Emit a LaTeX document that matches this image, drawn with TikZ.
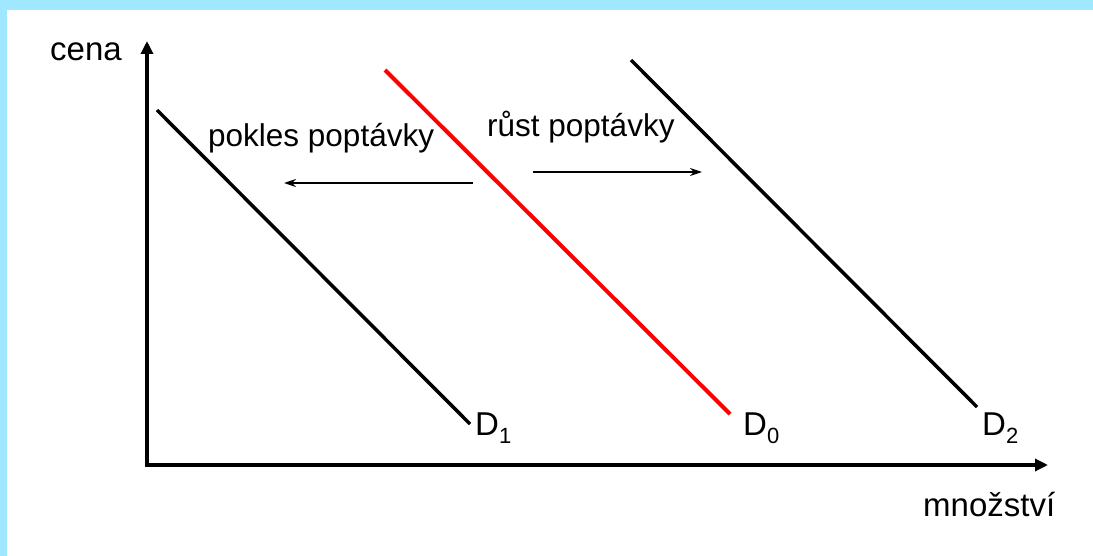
\documentclass[tikz,border=0pt]{standalone}
\usepackage{fontspec}
\setmainfont{Liberation Sans}
\usetikzlibrary{arrows.meta,positioning}
\definecolor{framecolor}{RGB}{160,232,255}
\definecolor{basecolor}{RGB}{255,0,0}
\newcommand{\dsub}[1]{D\raisebox{-8pt}{\fontsize{22}{22}\selectfont #1}}

\begin{document}
\begin{tikzpicture}[x=1pt, y=-1pt,
    every node/.style={font=\fontsize{33}{38}\selectfont, inner sep=0pt},
    axis/.style={line width=4pt, {Triangle[length=13pt,width=12pt]}-{Triangle[length=13pt,width=12pt]}},
    demand/.style={line width=3.5pt},
    shiftarrow/.style={line width=1.5pt, -{Stealth[length=12pt,width=8pt]}},
    shifttext/.style={anchor=base west, font=\fontsize{31.5}{36}\selectfont}]
    \useasboundingbox (0,0) rectangle (1093,556);
    % Frame strips
    \fill[framecolor] (0,0) rectangle (1093,10);
    \fill[framecolor] (0,0) rectangle (7,556);
    % Axes
    \coordinate (ytip) at (147,41);
    \coordinate (origin) at (147,465);
    \coordinate (xtip) at (1048,465);
    \draw[axis] (ytip) -- (origin) -- (xtip);
    \node[anchor=base west] (cena) at (50,61) {cena};
    \node[anchor=base west] (mnozstvi) at (923,516) {množství};
    % Demand curves (named end points)
    \coordinate (d1top) at (157,110);
    \coordinate (d1end) at (470,424);
    \coordinate (d0top) at (385,70);
    \coordinate (d0end) at (730,414);
    \coordinate (d2top) at (631,60);
    \coordinate (d2end) at (977,407);
    \draw[demand] (d1top) -- (d1end);
    \draw[demand, basecolor, line width=4pt] (d0top) -- (d0end);
    \draw[demand] (d2top) -- (d2end);
    % Curve labels
    \node[anchor=base west] (labD1) at (475,435) {\dsub{1}};
    \node[anchor=base west] (labD0) at (743,435) {\dsub{0}};
    \node[anchor=base west] (labD2) at (982,435) {\dsub{2}};
    % Shift arrows and their texts
    \node[shifttext] (pokles) at (208,147) {pokles poptávky};
    \node[shifttext] (rust) at (487,137) {růst poptávky};
    \coordinate (leftfrom) at (473,183);
    \coordinate (leftto) at (284,183);
    \coordinate (rightfrom) at (533,172);
    \coordinate (rightto) at (702,172);
    \draw[shiftarrow] (leftfrom) -- (leftto);
    \draw[shiftarrow] (rightfrom) -- (rightto);
\end{tikzpicture}
\end{document}
